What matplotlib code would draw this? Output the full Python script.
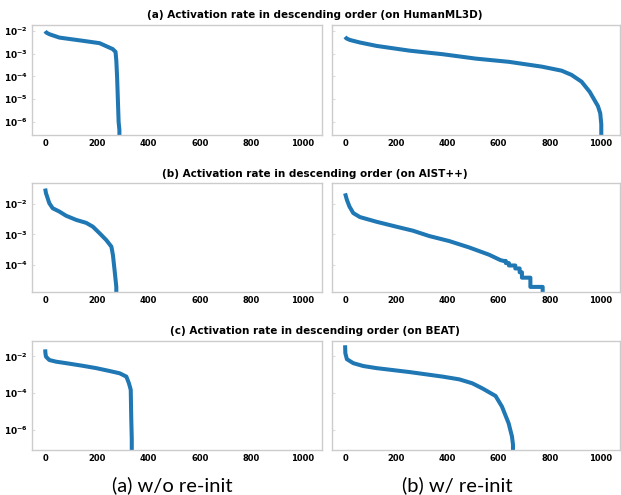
import matplotlib
matplotlib.use("Agg")
import matplotlib.pyplot as plt

# activation rate of codebook entries, sorted descending
# a 0 at the end makes the curve drop through the bottom of the log axis
hml_wo_x = [0, 4, 16, 55, 145, 211, 262, 273, 276, 279, 282, 285, 288, 289, 1023]
hml_wo_y = [0.0098, 0.0085, 0.0072, 0.0051, 0.0037, 0.0029, 0.0016, 0.0012,
            5e-4, 1e-4, 1e-5, 1e-6, 4.5e-7, 0, 0]
hml_w_x = [0, 5, 19, 58, 123, 252, 381, 510, 640, 769, 846, 885, 924, 956, 988,
           997, 1001, 1002, 1023]
hml_w_y = [0.0055, 0.0047, 0.0040, 0.0031, 0.0022, 0.00136, 0.00095, 0.00061,
           0.00044, 0.00027, 0.00018, 0.000117, 5.9e-5, 2.1e-5, 5e-6, 2.4e-6,
           8e-7, 0, 0]

aist_wo_x = [0, 3, 16, 29, 55, 81, 120, 159, 185, 211, 237, 257, 263, 270, 276,
             277, 1023]
aist_wo_y = [0.0316, 0.0224, 0.0105, 0.0072, 0.0056, 0.0041, 0.0030, 0.0024,
             0.0018, 0.0011, 0.00066, 0.0004, 0.00021, 6e-5, 1.95e-5, 0, 0]
aist_w_x = [0, 7, 17, 32, 58, 123, 200, 265, 329, 407, 484, 562, 607, 620, 628,
            628, 640, 640, 665, 665, 682, 682, 691, 691, 724, 724, 772, 772, 1023]
aist_w_y = [0.022, 0.0135, 0.0082, 0.0050, 0.0037, 0.0026, 0.0018, 0.00133,
            0.00089, 0.00061, 0.00038, 0.00022, 0.000146, 0.000137, 0.000137,
            0.000117, 0.000117, 9.75e-5, 9.75e-5, 7.8e-5, 7.8e-5, 5.85e-5,
            5.85e-5, 3.9e-5, 3.9e-5, 1.95e-5, 1.95e-5, 0, 0]

beat_wo_x = [0, 1, 3, 16, 42, 81, 145, 198, 250, 289, 315, 325, 332, 334, 336,
             337, 1023]
beat_wo_y = [0.0245, 0.015, 0.0098, 0.0064, 0.0052, 0.0043, 0.0031, 0.0023,
             0.0016, 0.0012, 0.00079, 0.00034, 0.00015, 4.2e-6, 3e-7, 0, 0]
beat_w_x = [0, 1, 7, 32, 71, 123, 252, 381, 446, 497, 536, 588, 613, 639, 652,
            656, 657, 1023]
beat_w_y = [0.041, 0.015, 0.0071, 0.0043, 0.0030, 0.0023, 0.0014, 0.00079,
            0.00056, 0.00034, 0.00018, 6.9e-5, 1.8e-5, 2.2e-6, 4.2e-7, 1.5e-7,
            0, 0]

row_titles = ["(a) Activation rate in descending order (on HumanML3D)",
              "(b) Activation rate in descending order (on AIST++)",
              "(c) Activation rate in descending order (on BEAT)"]
col_labels = ["(a) w/o re-init", "(b) w/ re-init"]

rows = [((hml_wo_x, hml_wo_y), (hml_w_x, hml_w_y)),
        ((aist_wo_x, aist_wo_y), (aist_w_x, aist_w_y)),
        ((beat_wo_x, beat_wo_y), (beat_w_x, beat_w_y))]
ylims = [(2.7e-7, 0.0182), (1.33e-5, 0.0479), (7.9e-8, 0.0748)]
yticks = [[1e-2, 1e-3, 1e-4, 1e-5, 1e-6], [1e-2, 1e-3, 1e-4], [1e-2, 1e-4, 1e-6]]

plt.rcParams["font.weight"] = "bold"
plt.rcParams["font.size"] = 6

W, H = 621, 495
fig = plt.figure(figsize=(W / 100, H / 100), dpi=100)

# axes boxes in pixels: (top, bottom)
row_px = [(25, 135), (183, 292), (340.5, 449.7)]
col_px = [(32, 322), (332, 620)]
title_y = [15.5, 174, 331]

for r, (top, bot) in enumerate(row_px):
    for c, (left, right) in enumerate(col_px):
        ax = fig.add_axes([left / W, 1 - bot / H, (right - left) / W, (bot - top) / H])
        x, y = rows[r][c]
        ax.plot(x, y, color="#1f77b4", lw=2.9, solid_capstyle="butt")
        ax.set_yscale("log")
        ax.set_ylim(*ylims[r])
        ax.set_yticks(yticks[r])
        ax.set_xlim(-51.15, 1074.15)
        ax.set_xticks([0, 200, 400, 600, 800, 1000])
        for s in ax.spines.values():
            s.set_color("#cccccc")
            s.set_linewidth(1)
        ax.tick_params(axis="x", length=0, pad=3, labelsize=6)
        ax.tick_params(axis="y", which="major", length=2, direction="in",
                       color="#dddddd", pad=3, labelsize=6.5)
        ax.tick_params(axis="y", which="minor", length=0)
        if c == 1:
            ax.tick_params(axis="y", labelleft=False)
    fig.text(315 / W, 1 - title_y[r] / H, row_titles[r], ha="center", va="center",
             fontsize=7.5, fontweight="bold")

for c, cx in enumerate([172, 457]):
    fig.text(cx / W, 1 - 485 / H, col_labels[c], ha="center", va="center",
             fontsize=14.5, fontweight="normal", family="Lato")

fig.savefig("out.png", dpi=100)
